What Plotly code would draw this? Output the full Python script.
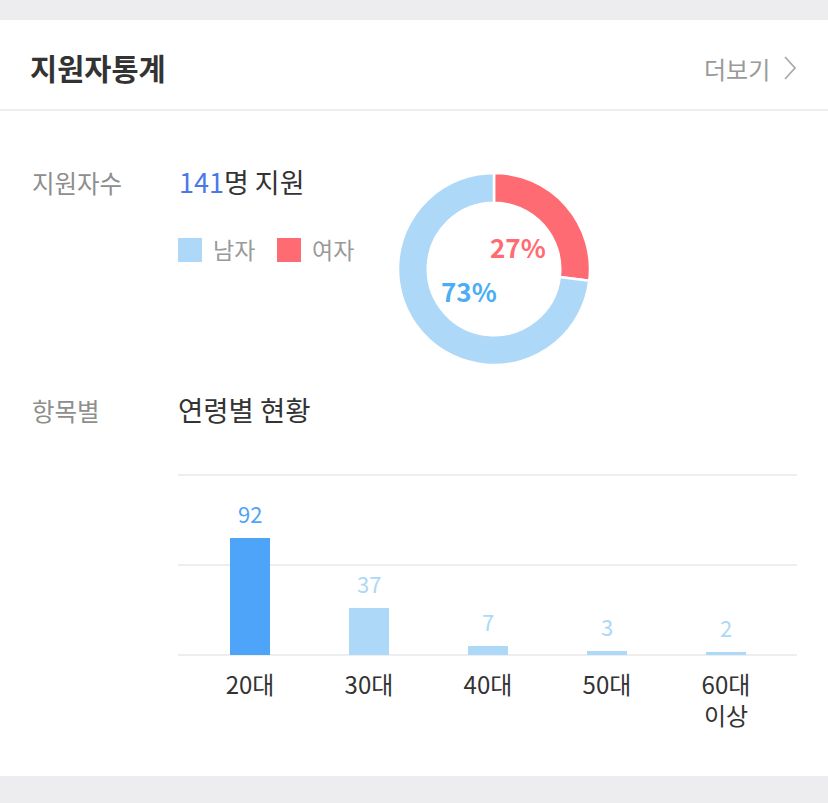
import plotly.graph_objects as go

# ---- data ----
gender_labels = ["여자", "남자"]
gender_counts = [38, 103]
age_labels = ["20대", "30대", "40대", "50대", "60대<br>이상"]
age_counts = [92, 37, 7, 3, 2]

W, H = 828, 803
FONT = "Noto Sans CJK KR, Noto Sans, sans-serif"
LIGHT_BLUE = "#ADD8F7"
DARK_BLUE = "#4EA4F9"
RED = "#FF6B73"
GRID = "#EEEEEE"

def px(x):
    return x / W

def py(y):
    return 1 - y / H

total = sum(gender_counts)
pcts = [round(c * 100 / total) for c in gender_counts]

fig = go.Figure()

# donut
fig.add_trace(go.Pie(
    labels=gender_labels, values=gender_counts, hole=0.69, sort=False,
    direction="clockwise", rotation=0,
    marker=dict(colors=[RED, LIGHT_BLUE], line=dict(color="white", width=2.5)),
    textinfo="none", hoverinfo="none", showlegend=False,
    domain=dict(x=[px(398), px(590)], y=[py(365), py(173)]),
))

# bars
bar_colors = [DARK_BLUE] + [LIGHT_BLUE] * (len(age_counts) - 1)
fig.add_trace(go.Bar(
    x=age_labels, y=age_counts, marker=dict(color=bar_colors, line=dict(width=0)),
    width=0.336, hoverinfo="none", showlegend=False,
))

annotations = []
def txt(x, y, text, size, color, anchor="left", bold=False):
    annotations.append(dict(
        x=px(x), y=py(y), xref="paper", yref="paper", text=(f"<b>{text}</b>" if bold else text),
        showarrow=False, xanchor=anchor, yanchor="middle",
        font=dict(family=FONT, size=size, color=color),
    ))

txt(28, 67, "지원자통계", 29.5, "#333333", bold=True)
txt(772, 68, "더보기", 24, "#999999", anchor="right")
txt(30, 182, "지원자수", 24.5, "#8E8E8E")
txt(177, 181, f"<span style='color:#4A78E8'>{total}</span>명 지원", 27, "#333333")
txt(211, 249, "남자", 23, "#999999")
txt(310, 249, "여자", 23, "#999999")
txt(30, 410, "항목별", 24.5, "#8E8E8E")
txt(176, 409, "연령별 현황", 27.5, "#333333")

# donut percentage labels
txt(518, 246, f"{pcts[0]}%", 26, RED, anchor="center", bold=True)
txt(469, 290, f"{pcts[1]}%", 26, "#4BAEF2", anchor="center", bold=True)

# bar value labels
for i, (lab, v) in enumerate(zip(age_labels, age_counts)):
    annotations.append(dict(
        x=lab, y=v, xref="x", yref="y", text=str(v), showarrow=False,
        xanchor="center", yanchor="bottom", yshift=7,
        font=dict(family=FONT, size=22, color=bar_colors[i]),
    ))

shapes = [
    dict(type="rect", xref="paper", yref="paper", x0=0, x1=1, y0=py(20), y1=1,
         fillcolor="#EDEDEF", line=dict(width=0), layer="below"),
    dict(type="rect", xref="paper", yref="paper", x0=0, x1=1, y0=0, y1=py(776),
         fillcolor="#EDEDEF", line=dict(width=0), layer="below"),
    dict(type="line", xref="paper", yref="paper", x0=0, x1=1, y0=py(110), y1=py(110),
         line=dict(color=GRID, width=2)),
    dict(type="path", xref="paper", yref="paper",
         path=f"M {px(785)} {py(57)} L {px(795)} {py(68)} L {px(785)} {py(79)}",
         line=dict(color="#AAAAAA", width=1.8)),
    dict(type="rect", xref="paper", yref="paper", x0=px(178), x1=px(202), y0=py(262), y1=py(238),
         fillcolor=LIGHT_BLUE, line=dict(width=0)),
    dict(type="rect", xref="paper", yref="paper", x0=px(277), x1=px(301), y0=py(262), y1=py(238),
         fillcolor=RED, line=dict(width=0)),
]

fig.update_layout(
    width=W, height=H, margin=dict(l=0, r=0, t=0, b=0),
    paper_bgcolor="white", plot_bgcolor="white",
    font=dict(family=FONT),
    annotations=annotations, shapes=shapes,
    xaxis=dict(domain=[px(178), px(797)], range=[-0.605, 4.597], showgrid=False,
               zeroline=False, showline=False, ticks="",
               tickfont=dict(family=FONT, size=24, color="#333333"),
               ticklabelstandoff=13, fixedrange=True),
    yaxis=dict(domain=[py(656), py(474)], range=[-0.8, total + 0.8], tickvals=[0, total / 2, total],
               showgrid=True, gridcolor=GRID, gridwidth=2, zeroline=False,
               showticklabels=False, fixedrange=True),
    bargap=0,
)

fig.write_html("out.html")
